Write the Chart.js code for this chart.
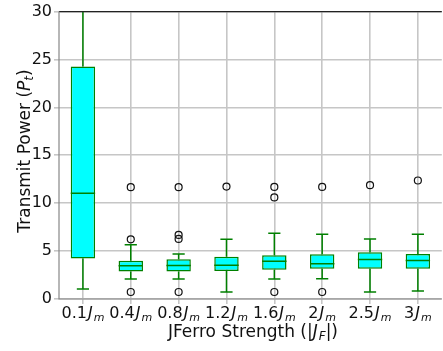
<!DOCTYPE html>
<html>
<head>
<meta charset="utf-8">
<script src="https://cdn.jsdelivr.net/npm/chart.js@4"></script>
<style>
  html, body { margin: 0; padding: 0; background: #fff; overflow: hidden; }
  #wrap { width: 443px; height: 351px; overflow: hidden; }
</style>
</head>
<body>
<div id="wrap"><canvas id="chart" width="447" height="351"></canvas></div>
<script>
// dados
const categories = ['0.1', '0.4', '0.8', '1.2', '1.6', '2', '2.5', '3'];
const q1 = [4.23, 2.87, 2.87, 2.91, 3.05, 3.15, 3.15, 3.15];
const median = [11.05, 3.46, 3.5, 3.53, 3.95, 3.67, 4.12, 4.02];
const q3 = [24.28, 3.98, 4.16, 4.4, 4.57, 4.68, 4.88, 4.71];
const whiskerLow = [1.04, 2.08, 2.08, 0.73, 2.08, 2.11, 0.73, 0.83];
const whiskerHigh = [31, 5.65, 4.71, 6.23, 6.86, 6.75, 6.27, 6.75];
const outliers = [
  [],
  [11.67, 6.23, 0.73],
  [11.67, 6.69, 6.27, 0.73],
  [11.74],
  [11.7, 10.6, 0.73],
  [11.7, 0.73],
  [11.88],
  [12.37]
];
const yTicks = [0, 5, 10, 15, 20, 25, 30];

const FONT = "'DejaVu Sans'";
const GREEN = '#008000';
const GRID = '#c6c6c6';

// pontos fora dos bigodes
const outlierPoints = [];
for (let i = 0; i < categories.length; i++) {
  for (let j = 0; j < outliers[i].length; j++) {
    outlierPoints.push({ x: categories[i], y: outliers[i][j] });
  }
}

// desenha texto com partes em itálico / subscrito
function richText(ctx, parts, x, y, align) {
  let total = 0;
  parts.forEach(p => { ctx.font = p.f; total += ctx.measureText(p.t).width + (p.gap || 0); });
  let cx = align == 'center' ? x - total / 2 : x;
  parts.forEach(p => {
    ctx.font = p.f;
    ctx.fillText(p.t, cx, y + (p.dy || 0));
    cx += ctx.measureText(p.t).width + (p.gap || 0);
  });
}

const boxPlugin = {
  id: 'boxplot',
  afterDatasetsDraw(chart) {
    const ctx = chart.ctx, xs = chart.scales.x, ys = chart.scales.y, a = chart.chartArea;
    const half = xs.width / categories.length * 0.51 / 2;
    ctx.save();
    ctx.beginPath();
    ctx.rect(a.left, a.top, a.right - a.left, a.bottom - a.top);
    ctx.clip();
    ctx.strokeStyle = GREEN;
    ctx.lineWidth = 1.5;
    for (let i = 0; i < categories.length; i++) {
      const x = xs.getPixelForValue(i);
      ctx.beginPath();
      ctx.moveTo(x, ys.getPixelForValue(q1[i]));
      ctx.lineTo(x, ys.getPixelForValue(whiskerLow[i]));
      ctx.moveTo(x, ys.getPixelForValue(q3[i]));
      ctx.lineTo(x, ys.getPixelForValue(whiskerHigh[i]));
      ctx.moveTo(x - half / 2, ys.getPixelForValue(whiskerLow[i]));
      ctx.lineTo(x + half / 2, ys.getPixelForValue(whiskerLow[i]));
      ctx.moveTo(x - half / 2, ys.getPixelForValue(whiskerHigh[i]));
      ctx.lineTo(x + half / 2, ys.getPixelForValue(whiskerHigh[i]));
      ctx.moveTo(x - half, ys.getPixelForValue(median[i]));
      ctx.lineTo(x + half, ys.getPixelForValue(median[i]));
      ctx.stroke();
    }
    ctx.restore();
  },
  afterDraw(chart) {
    const ctx = chart.ctx, xs = chart.scales.x, a = chart.chartArea;
    ctx.save();
    // eixos
    ctx.lineWidth = 1.2;
    ctx.strokeStyle = '#222';
    ctx.beginPath(); ctx.moveTo(a.left, a.top); ctx.lineTo(a.right, a.top); ctx.stroke();
    ctx.strokeStyle = '#888';
    ctx.beginPath(); ctx.moveTo(a.left, a.top); ctx.lineTo(a.left, a.bottom); ctx.lineTo(a.right, a.bottom); ctx.stroke();
    // rótulos do eixo x
    ctx.fillStyle = '#111';
    ctx.textBaseline = 'alphabetic';
    for (let i = 0; i < categories.length; i++) {
      const x = xs.getPixelForValue(i);
      richText(ctx, [
        { t: categories[i], f: '16px ' + FONT, gap: 1 },
        { t: 'J', f: 'italic 16px ' + FONT, gap: 1 },
        { t: 'm', f: 'italic 11px ' + FONT, dy: 3 }
      ], x, 318, 'center');
    }
    // título do eixo x
    richText(ctx, [
      { t: 'JFerro Strength (|', f: '17px ' + FONT },
      { t: 'J', f: 'italic 17px ' + FONT, gap: 1 },
      { t: 'F', f: 'italic 12px ' + FONT, dy: 3 },
      { t: '|)', f: '17px ' + FONT }
    ], 253, 337, 'center');
    // título do eixo y
    ctx.translate(30, 151);
    ctx.rotate(-Math.PI / 2);
    richText(ctx, [
      { t: 'Transmit Power (', f: '17px ' + FONT },
      { t: 'P', f: 'italic 17px ' + FONT },
      { t: 't', f: 'italic 12px ' + FONT, dy: 3 },
      { t: ')', f: '17px ' + FONT }
    ], 0, 0, 'center');
    ctx.restore();
  }
};

const data = {
  labels: categories,
  datasets: [
    {
      type: 'line',
      data: outlierPoints,
      showLine: false,
      pointStyle: 'circle',
      pointRadius: 3.5,
      pointBorderWidth: 1.2,
      pointBorderColor: '#111',
      pointBackgroundColor: 'rgba(0,0,0,0)',
      clip: false,
      order: 0
    },
    {
      type: 'bar',
      data: categories.map((c, i) => [q1[i], q3[i]]),
      backgroundColor: '#00ffff',
      borderColor: GREEN,
      borderWidth: 1.5,
      borderSkipped: false,
      barPercentage: 0.51,
      categoryPercentage: 1,
      order: 1
    }
  ]
};

const config = {
  data: data,
  plugins: [boxPlugin],
  options: {
    responsive: false,
    animation: false,
    layout: { padding: { top: 10, bottom: 52, left: 0, right: 0 } },
    plugins: { legend: { display: false }, tooltip: { enabled: false } },
    scales: {
      x: {
        type: 'category',
        offset: true,
        grid: { offset: false, color: GRID, lineWidth: 1.6, tickLength: 5 },
        border: { display: false },
        ticks: { display: false },
        afterFit(s) { s.height = 0; }
      },
      y: {
        min: 0,
        max: 30,
        afterBuildTicks(s) { s.ticks = yTicks.map(v => ({ value: v })); },
        grid: { color: GRID, lineWidth: 1.6, tickLength: 5 },
        border: { display: false },
        ticks: { color: '#111', font: { family: FONT, size: 16 }, padding: 2 },
        afterFit(s) { s.width = 59; }
      }
    }
  }
};

let myChart = new Chart(document.getElementById('chart'), config);
</script>
</body>
</html>
